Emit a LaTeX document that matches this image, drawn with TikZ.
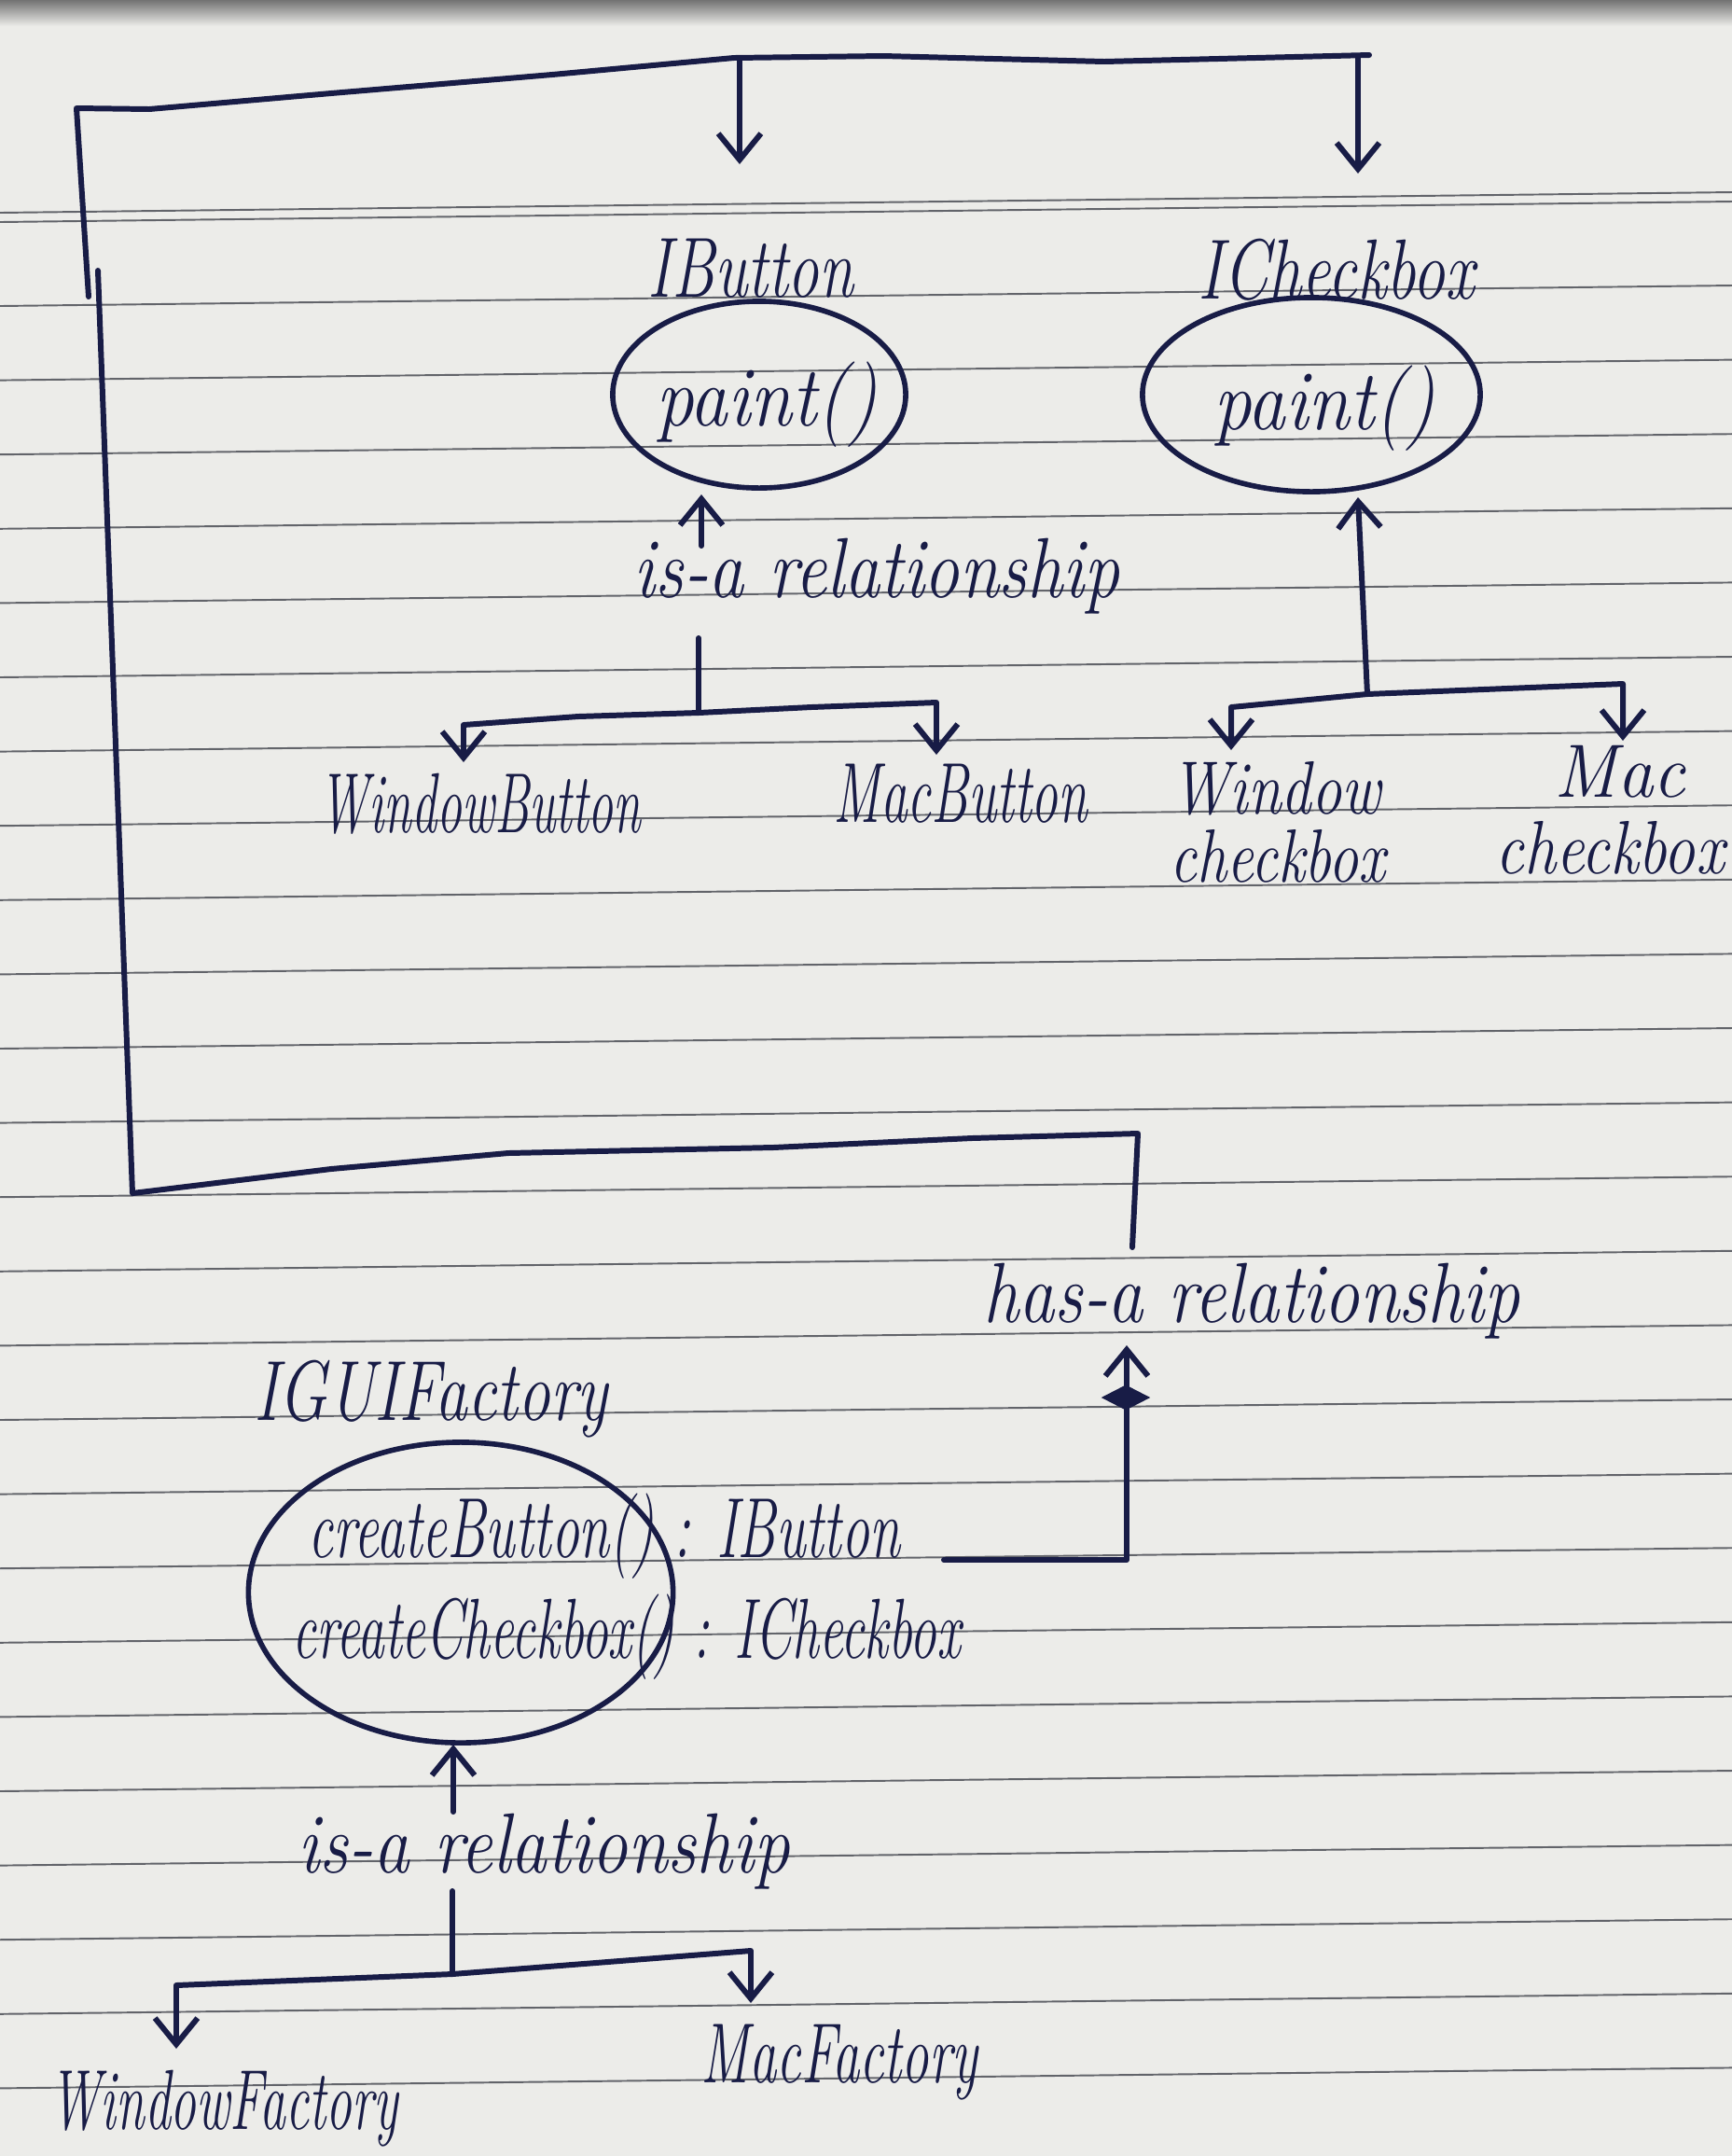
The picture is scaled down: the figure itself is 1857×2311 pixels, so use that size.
\documentclass[tikz,border=0pt]{standalone}
\usetikzlibrary{arrows.meta,shapes.geometric}
\definecolor{ink}{RGB}{24,28,70}
\definecolor{paper}{RGB}{236,236,233}
\definecolor{rulec}{RGB}{98,100,106}
\newcommand{\hw}[2]{\resizebox{#1}{\height}{\itshape #2}}
\begin{document}
\begin{tikzpicture}[x=0.01cm,y=-0.01cm,
  pen/.style={draw=ink,line width=1.7pt,line cap=round,line join=round},
  arr/.style={pen,-{Straight Barb[length=8pt,width=13pt]}},
  lbl/.style={inner sep=0pt,text=ink,font=\fontsize{26}{30}\selectfont},
  sml/.style={lbl,font=\fontsize{23}{26}\selectfont},
  oval/.style={ellipse,draw=ink,line width=1.6pt,inner sep=0pt},
  ruled/.style={draw=rulec,line width=0.55pt}]
\useasboundingbox (0,0) rectangle (1857,2311);
% paper
\fill[paper] (0,0) rectangle (1857,2311);
\shade[top color=black!55,bottom color=paper] (0,0) rectangle (1857,28);
\draw[ruled] (0,228) -- (1857,206);
\draw[ruled] (0,238) -- (1857,216);
\foreach \k in {1,...,25}{
  \draw[ruled] (0,{328+79.6*(\k-1)}) -- (1857,{328+79.6*(\k-1)-22});
}
% ---------- top interfaces ----------
\node[lbl] (ibtnlbl) at (805,288) {\hw{2.2cm}{IButton}};
\node[oval,minimum width=3.14cm,minimum height=2.0cm] (ibtn) at (814,423) {};
\node[lbl] (ibtnm) at (822,434) {\hw{2.37cm}{paint()}};
\node[lbl] (ichklbl) at (1433,289) {\hw{2.96cm}{ICheckbox}};
\node[oval,minimum width=3.62cm,minimum height=2.08cm] (ichk) at (1406,423) {};
\node[lbl] (ichkm) at (1420,438) {\hw{2.37cm}{paint()}};
% is-a (buttons)
\node[lbl] (isa1) at (940,618) {\hw{5.2cm}{is-a relationship}};
\coordinate (isa1up) at (752,585);
\coordinate (ibtnin) at (752,530);
\draw[arr] (isa1up) -- (ibtnin);
\coordinate (j1) at (749,684);
\coordinate (b1) at (749,764);
\draw[pen] (j1) -- (b1);
\node[lbl] (wbtn) at (515,862) {\hw{3.44cm}{WindowButton}};
\node[lbl] (mbtn) at (1030,851) {\hw{2.72cm}{MacButton}};
\coordinate (wbtop) at (497,817);
\coordinate (mbtop) at (1004,809);
\draw[arr] (b1) -- (620,768) -- (497,777) -- (wbtop);
\draw[arr] (b1) -- (870,758) -- (1004,753) -- (mbtop);
% is-a (checkboxes)
\coordinate (b2) at (1466,744);
\coordinate (ichkin) at (1456,533);
\draw[arr] (b2) -- (ichkin);
\node[sml] (wchk1) at (1368,845) {\hw{2.25cm}{Window}};
\node[sml] (wchk2) at (1370,918) {\hw{2.31cm}{checkbox}};
\node[sml] (mchk1) at (1737,827) {\hw{1.4cm}{Mac}};
\node[sml] (mchk2) at (1726,909) {\hw{2.45cm}{checkbox}};
\coordinate (wctop) at (1320,804);
\coordinate (mctop) at (1740,794);
\draw[arr] (b2) -- (1320,758) -- (wctop);
\draw[arr] (b2) -- (1740,733) -- (mctop);
% ---------- factory ----------
\node[lbl] (gfl) at (462,1500) {\hw{3.79cm}{IGUIFactory}};
\node[oval,minimum width=4.55cm,minimum height=3.22cm] (gf) at (494,1707) {};
\node[lbl] (cb) at (648,1647) {\hw{6.34cm}{createButton() : IButton}};
\node[lbl] (cc) at (672,1755) {\hw{7.16cm}{createCheckbox() : ICheckbox}};
% has-a relationship
\node[lbl] (hasa) at (1342,1395) {\hw{5.75cm}{has-a relationship}};
\coordinate (hasstart) at (1012,1672);
\coordinate (hasend) at (1208,1442);
\draw[arr] (hasstart) -| (hasend);
\node[diamond,aspect=1.9,fill=ink,draw=ink,inner sep=0pt,minimum width=0.5cm,minimum height=0.26cm] (hasdia) at (1207,1498) {};
% loop back to the interfaces
\coordinate (loopA) at (1214,1337);
\coordinate (loopB) at (105,290);
\draw[pen] (loopA) -- (1220,1215) -- (1042,1220) -- (829,1230) -- (545,1236) -- (355,1253) -- (142,1279) -- (loopB);
\coordinate (loopC) at (95,318);
\draw[pen] (loopC) -- (82,116) -- (160,117) -- (355,100) -- (592,80) -- (787,62) -- (947,60) -- (1184,66) -- (1468,59);
\coordinate (tb1) at (793,62);
\coordinate (tb2) at (1456,60);
\coordinate (ibtnarr) at (793,176);
\coordinate (ichkarr) at (1456,186);
\draw[arr] (tb1) -- (ibtnarr);
\draw[arr] (tb2) -- (ichkarr);
% is-a (factories)
\node[lbl] (isa2) at (583,1985) {\hw{5.27cm}{is-a relationship}};
\coordinate (isa2up) at (486,1942);
\coordinate (gfin) at (486,1870);
\draw[arr] (isa2up) -- (gfin);
\coordinate (j3) at (485,2027);
\coordinate (b3) at (485,2116);
\draw[pen] (j3) -- (b3);
\node[lbl] (wf) at (240,2260) {\hw{3.73cm}{WindowFactory}};
\node[lbl] (mf) at (900,2211) {\hw{2.96cm}{MacFactory}};
\coordinate (wftop) at (189,2196);
\coordinate (mftop) at (805,2147);
\draw[arr] (b3) -- (189,2128) -- (wftop);
\draw[arr] (b3) -- (805,2091) -- (mftop);
\end{tikzpicture}
\end{document}
